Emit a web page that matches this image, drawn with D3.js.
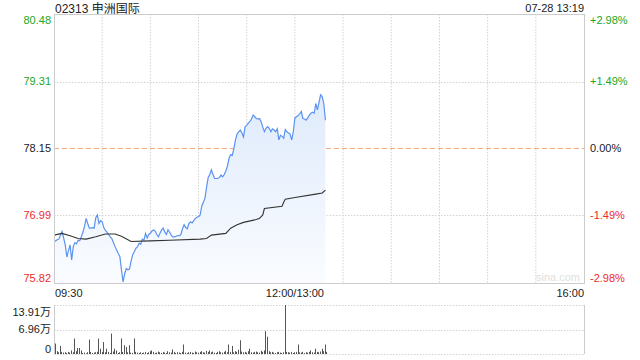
<!DOCTYPE html>
<html>
<head>
<meta charset="utf-8">
<script src="https://cdn.jsdelivr.net/npm/d3@7"></script>
<style>
  body { margin: 0; background: #fff; }
  svg { font-family: "Liberation Sans", Arial, "Noto Sans CJK SC", sans-serif; }
</style>
</head>
<body>
<svg id="chart" width="640" height="360"></svg>
<script>
// chart data
var title = '02313 申洲国际';
var stamp = '07-28 13:19';
var prevClose = 78.15;
var priceTicks = [75.82, 76.99, 78.15, 79.31, 80.48];
var pctTicks = ['-2.98%', '-1.49%', '0.00%', '+1.49%', '+2.98%'];
var volTicks = [0, 6.96, 13.91];
var volTickLabels = ['0', '6.96万', '13.91万'];
var timeLabels = ['09:30', '12:00/13:00', '16:00'];
var timeLabelMinutes = [0, 150, 330];

// one price per minute from 09:30 (lunch break skipped)
var prices = [
  76.54, 76.55, 76.57, 76.58, 76.65, 76.71, 76.60, 76.48, 76.27, 76.38,
  76.48, 76.22, 76.45, 76.52, 76.50, 76.56, 76.55, 76.62, 76.70, 76.80,
  76.94, 76.85, 76.77, 76.77, 76.78, 76.77, 76.95, 77.00, 76.85, 76.90,
  76.88, 76.78, 76.73, 76.70, 76.66, 76.62, 76.59, 76.52, 76.45, 76.39,
  76.33, 76.28, 76.05, 75.84, 75.98, 76.07, 76.05, 76.06, 76.20, 76.31,
  76.36, 76.42, 76.45, 76.51, 76.49, 76.58, 76.56, 76.68, 76.60, 76.66,
  76.68, 76.72, 76.74, 76.72, 76.66, 76.62, 76.68, 76.74, 76.77, 76.70,
  76.66, 76.74, 76.70, 76.65, 76.62, 76.62, 76.63, 76.64, 76.64, 76.66,
  76.76, 76.83, 76.78, 76.76, 76.85, 76.88, 76.86, 76.90, 76.94, 76.96,
  76.97, 77.00, 77.15, 77.22, 77.29, 77.48, 77.65, 77.70, 77.78, 77.70,
  77.63, 77.63, 77.63, 77.65, 77.69, 77.66, 77.70, 77.76, 77.85, 77.98,
  78.04, 78.03, 78.15, 78.30, 78.40, 78.44, 78.47, 78.42, 78.35, 78.53,
  78.55, 78.59, 78.62, 78.66, 78.73, 78.70, 78.67, 78.66, 78.67, 78.61,
  78.52, 78.44, 78.50, 78.53, 78.50, 78.44, 78.49, 78.47, 78.44, 78.49,
  78.30, 78.38, 78.36, 78.33, 78.48, 78.44, 78.42, 78.40, 78.30, 78.44,
  78.68, 78.70, 78.72, 78.75, 78.79, 78.67, 78.66, 78.64, 78.68, 78.73,
  78.76, 78.78, 78.76, 78.93, 78.82, 78.95, 79.08, 79.05, 78.93, 78.64
];

// average price line, read at these minutes
var avgMinutes = [0, 5, 10, 15, 20, 26, 32, 38, 42, 48, 60, 72, 91, 95, 98, 107, 110, 114, 118, 126, 128, 130, 131, 142, 143, 144, 150, 163, 167, 169];
var avgPrices = [76.65, 76.68, 76.64, 76.59, 76.58, 76.62, 76.67, 76.67, 76.63, 76.54, 76.55, 76.56, 76.58, 76.59, 76.65, 76.68, 76.77, 76.83, 76.87, 76.92, 76.94, 77.00, 77.11, 77.15, 77.22, 77.27, 77.30, 77.36, 77.38, 77.43];

// volume per minute, in 万 shares
var volumes = [
  2.96, 0.8, 0.5, 2.3, 0.6, 0.4, 0.5, 0.3, 0.6, 0.4,
  1.0, 0.5, 4.4, 0.8, 1.7, 1.7, 1.0, 0.3, 0.4, 0.2,
  0.5, 4.1, 0.6, 0.3, 0.4, 0.5, 0.6, 4.4, 1.5, 0.6,
  3.4, 0.5, 1.5, 0.6, 0.3, 5.8, 0.7, 1.5, 1.0, 0.3,
  0.5, 4.4, 0.6, 2.5, 2.0, 0.5, 2.5, 0.4, 0.3, 4.4,
  0.6, 0.4, 0.3, 0.5, 0.3, 0.4, 0.6, 0.3, 0.5, 0.8,
  1.0, 0.6, 0.3, 0.4, 0.7, 0.5, 0.3, 0.6, 0.4, 0.3,
  0.8, 0.5, 0.4, 1.3, 0.6, 0.3, 0.5, 0.4, 0.3, 0.6,
  2.7, 0.4, 0.3, 0.5, 0.6, 0.4, 0.3, 0.7, 0.5, 0.4,
  0.6, 0.8, 0.5, 0.4, 0.9, 0.6, 1.0, 0.5, 0.7, 0.4,
  0.3, 0.6, 0.8, 0.5, 0.4, 0.6, 0.9, 0.5, 2.7, 0.6,
  2.3, 0.5, 0.8, 0.6, 1.2, 3.9, 0.7, 0.5, 0.6, 0.4,
  0.8, 1.5, 0.5, 0.4, 0.6, 0.7, 0.5, 0.4, 0.9, 0.6,
  1.0, 6.5, 4.9, 0.8, 0.5, 0.6, 0.4, 0.3, 0.5, 0.6,
  0.4, 0.3, 0.5, 13.91, 0.6, 0.5, 0.4, 0.6, 0.3, 0.5,
  0.6, 2.7, 0.5, 0.4, 0.6, 0.3, 0.5, 0.4, 0.6, 1.0,
  0.5, 0.4, 1.5, 0.6, 0.5, 0.7, 1.5, 0.8, 2.7, 0.6
];

var svg = d3.select('#chart');

const left = 54, right = 584;
const pTop = 14, pBottom = 283;
const vTop = 305, vBottom = 354;

const green = '#22a822', red = '#ee2b2b', grid = '#d2d2d2';

var x = d3.scaleLinear().domain([0, 330]).range([left, right]);
var y = d3.scaleLinear().domain([75.82, 80.48]).range([pBottom, pTop]);
var yv = d3.scaleLinear().domain([0, 13.91]).range([vBottom, vTop]);

function tickColor(v) {
  if (v > prevClose + 0.001) return green;
  if (v < prevClose - 0.001) return red;
  return '#222';
}

// gradient for the price area
var grad = svg.append('defs').append('linearGradient')
  .attr('id', 'area_grad')
  .attr('gradientUnits', 'userSpaceOnUse')
  .attr('x1', 0).attr('y1', pTop).attr('x2', 0).attr('y2', pBottom);
grad.append('stop').attr('offset', '0%').attr('stop-color', '#d3e3fa');
grad.append('stop').attr('offset', '100%').attr('stop-color', '#fafcff');

// vertical grid, every 30 min
var gridMinutes = d3.range(30, 330, 30);
var grid_g = svg.append('g');
gridMinutes.forEach(function(m){
  grid_g.append('line')
    .attr('x1', x(m)).attr('x2', x(m))
    .attr('y1', pTop).attr('y2', pBottom)
    .style('stroke', grid).style('stroke-dasharray', '1.5,1.5');
});

// horizontal grid
priceTicks.slice(1, -1).forEach(function(v){
  var isMid = Math.abs(v - prevClose) < 0.001;
  grid_g.append('line')
    .attr('x1', left).attr('x2', right)
    .attr('y1', Math.round(y(v)) + 0.5).attr('y2', Math.round(y(v)) + 0.5)
    .style('stroke', isMid ? '#f2ab84' : grid)
    .style('stroke-dasharray', isMid ? '5,3' : '1.5,1.5');
});

// watermark
svg.append('text')
  .attr('x', 580).attr('y', 281)
  .attr('text-anchor', 'end')
  .style('font-size', '11px')
  .style('fill', '#e0e0e0')
  .text('sina.com');

// price area + line
var area = d3.area()
  .x(function(d, i){ return x(i); })
  .y0(pBottom)
  .y1(function(d){ return y(d); });

svg.append('path')
  .datum(prices)
  .attr('d', area)
  .style('fill', 'url(#area_grad)');

var line = d3.line()
  .x(function(d, i){ return x(i); })
  .y(function(d){ return y(d); });

svg.append('path')
  .datum(prices)
  .attr('d', line)
  .style('fill', 'none')
  .style('stroke', '#5b93ee')
  .style('stroke-width', 1.2);

var avgLine = d3.line()
  .x(function(d){ return x(d[0]); })
  .y(function(d){ return y(d[1]); });

svg.append('path')
  .datum(d3.zip(avgMinutes, avgPrices))
  .attr('d', avgLine)
  .style('fill', 'none')
  .style('stroke', '#333')
  .style('stroke-width', 1.1);

// price box
svg.append('rect')
  .attr('x', left + 0.5).attr('y', pTop + 0.5)
  .attr('width', right - left).attr('height', pBottom - pTop)
  .style('fill', 'none').style('stroke', '#cccccc');

// price labels, both sides
priceTicks.forEach(function(v, i){
  var ty = y(v);
  if (i === 0) ty -= 5;
  if (i === priceTicks.length - 1) ty += 6;
  svg.append('text')
    .attr('x', left - 3).attr('y', ty)
    .attr('dy', '0.35em')
    .attr('text-anchor', 'end')
    .style('font-size', '11px')
    .style('fill', tickColor(v))
    .text(v.toFixed(2));
  svg.append('text')
    .attr('x', right + 6).attr('y', ty)
    .attr('dy', '0.35em')
    .style('font-size', '11px')
    .style('fill', tickColor(v))
    .text(pctTicks[i]);
});

// title and timestamp
svg.append('text')
  .attr('x', left + 1).attr('y', 9).attr('dy', '0.35em')
  .style('font-size', '12px').style('fill', '#222')
  .text(title);
svg.append('text')
  .attr('x', right).attr('y', 8).attr('dy', '0.35em')
  .attr('text-anchor', 'end')
  .style('font-size', '11px').style('fill', '#222')
  .text(stamp);

// time labels
timeLabels.forEach(function(t, i){
  svg.append('text')
    .attr('x', x(timeLabelMinutes[i]) + (i === 0 ? 1 : 0))
    .attr('y', 293).attr('dy', '0.35em')
    .attr('text-anchor', i === 0 ? 'start' : (i === 1 ? 'middle' : 'end'))
    .style('font-size', '11px').style('fill', '#222')
    .text(t);
});

// volume chart
var vg = svg.append('g');
[vTop, (vTop + vBottom) / 2, vBottom].forEach(function(gy){
  vg.append('line')
    .attr('x1', left).attr('x2', right)
    .attr('y1', Math.round(gy) + 0.5).attr('y2', Math.round(gy) + 0.5)
    .style('stroke', grid).style('stroke-dasharray', '1.5,1.5');
});
vg.append('line')
  .attr('x1', left + 0.5).attr('x2', left + 0.5)
  .attr('y1', vTop).attr('y2', vBottom)
  .style('stroke', '#cccccc');
vg.append('line')
  .attr('x1', right + 0.5).attr('x2', right + 0.5)
  .attr('y1', vTop).attr('y2', vBottom)
  .style('stroke', '#cccccc');

vg.selectAll('rect.vol')
  .data(volumes)
  .enter().append('rect')
  .attr('class', 'vol')
  .attr('x', function(d, i){ return Math.round(x(i)) + 1; })
  .attr('y', function(d){ return yv(d); })
  .attr('width', 1)
  .attr('height', function(d){ return vBottom - yv(d); })
  .style('fill', '#555');

volTicks.forEach(function(v, i){
  var ty = yv(v);
  if (i === 0) ty -= 5;
  if (i === volTicks.length - 1) ty += 7;
  vg.append('text')
    .attr('x', left - 3).attr('y', ty).attr('dy', '0.35em')
    .attr('text-anchor', 'end')
    .style('font-size', '11px').style('fill', '#222')
    .text(volTickLabels[i]);
});
</script>
</body>
</html>
